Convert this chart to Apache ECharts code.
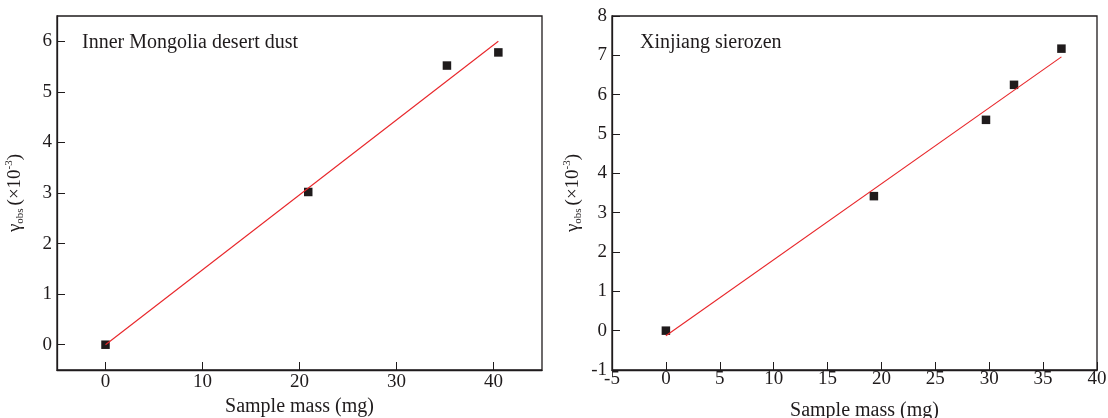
<!DOCTYPE html>
<html>
<head>
<meta charset="utf-8">
<script src="https://cdn.jsdelivr.net/npm/echarts@6/dist/echarts.min.js"></script>
<style>
  html, body { margin: 0; padding: 0; background: #fff; }
  #chart { width: 1108px; height: 418px; }
</style>
</head>
<body>
<div id="chart"></div>
<script>
// Inner Mongolia desert dust
const massMongolia = [0, 20.9, 35.2, 40.5]
const gammaMongolia = [0, 3.02, 5.52, 5.78]
const fitMassMongolia = [0, 40.5]
const fitGammaMongolia = [0, 6.0]
const xTicksMongolia = [0, 10, 20, 30, 40]
const yTicksMongolia = [0, 1, 2, 3, 4, 5, 6]

// Xinjiang sierozen
const massXinjiang = [0, 19.3, 29.7, 32.3, 36.7]
const gammaXinjiang = [0, 3.42, 5.36, 6.25, 7.17]
const fitMassXinjiang = [0, 36.7]
const fitGammaXinjiang = [-0.13, 6.96]

const panelNames = ['Inner Mongolia desert dust', 'Xinjiang sierozen']

const FONT = "'Liberation Serif', 'Times New Roman', serif"
const INK = '#1f1b1c'
const RED = '#e8262a'

const zip = (xs, ys) => xs.map((x, i) => [x, ys[i]])

const chart = echarts.init(document.getElementById('chart'))

const axisCommon = {
  axisLine: { onZero: false, lineStyle: { color: INK, width: 1.3 } },
  axisTick: { inside: true, length: 8, lineStyle: { color: INK, width: 1 } },
  splitLine: { show: false },
  axisLabel: { color: INK, fontFamily: FONT, fontSize: 19 }
}

const yName = '{g|γ}{sub|obs} {n|(×10}{sup|-3}{n|)}'
const yNameStyle = {
  fontFamily: FONT,
  color: INK,
  rich: {
    g: { fontFamily: FONT, fontSize: 19, color: INK },
    n: { fontFamily: FONT, fontSize: 19, color: INK },
    sub: { fontFamily: FONT, fontSize: 11, color: INK, padding: [10, 0, 0, 0] },
    sup: { fontFamily: FONT, fontSize: 11, color: INK, padding: [0, 0, 11, 0] }
  }
}
const titleStyle = { fontFamily: FONT, fontSize: 20, fontWeight: 'normal', color: INK }

const option = {
  backgroundColor: '#fff',
  animation: false,
  title: [
    { text: panelNames[0], left: 82, top: 33, padding: 0, textStyle: titleStyle },
    { text: panelNames[1], left: 640, top: 33, padding: 0, textStyle: titleStyle }
  ],
  grid: [
    { left: 57, top: 16, width: 485, height: 354, containLabel: false, outerBoundsMode: 'none', show: true, borderColor: INK, borderWidth: 1.3 },
    { left: 612, top: 16, width: 485, height: 354, containLabel: false, outerBoundsMode: 'none', show: true, borderColor: INK, borderWidth: 1.3 }
  ],
  xAxis: [
    {
      ...axisCommon,
      gridIndex: 0,
      type: 'value',
      min: -5,
      max: 45,
      axisTick: { ...axisCommon.axisTick, customValues: xTicksMongolia },
      axisLabel: { ...axisCommon.axisLabel, margin: 3, customValues: xTicksMongolia },
      name: 'Sample mass (mg)',
      nameLocation: 'middle',
      nameGap: 26,
      nameTextStyle: { fontFamily: FONT, fontSize: 20, color: INK }
    },
    {
      ...axisCommon,
      gridIndex: 1,
      type: 'value',
      min: -5,
      max: 40,
      interval: 5,
      axisLabel: { ...axisCommon.axisLabel, margin: 0 },
      name: 'Sample mass (mg)',
      nameLocation: 'middle',
      nameGap: 31,
      nameTextStyle: { fontFamily: FONT, fontSize: 20, color: INK, padding: [0, 0, 0, 20] }
    }
  ],
  yAxis: [
    {
      ...axisCommon,
      gridIndex: 0,
      type: 'value',
      min: -0.5,
      max: 6.5,
      axisTick: { ...axisCommon.axisTick, customValues: yTicksMongolia },
      axisLabel: { ...axisCommon.axisLabel, margin: 5, customValues: yTicksMongolia },
      name: yName,
      nameLocation: 'middle',
      nameGap: 31,
      nameTextStyle: yNameStyle
    },
    {
      ...axisCommon,
      gridIndex: 1,
      type: 'value',
      min: -1,
      max: 8,
      interval: 1,
      axisLabel: { ...axisCommon.axisLabel, margin: 5 },
      name: yName,
      nameLocation: 'middle',
      nameGap: 28,
      nameTextStyle: yNameStyle
    }
  ],
  series: [
    {
      type: 'scatter',
      xAxisIndex: 0,
      yAxisIndex: 0,
      symbol: 'rect',
      symbolSize: 8.5,
      itemStyle: { color: INK, opacity: 1 },
      data: zip(massMongolia, gammaMongolia),
      z: 2
    },
    {
      type: 'line',
      xAxisIndex: 0,
      yAxisIndex: 0,
      symbol: 'none',
      lineStyle: { color: RED, width: 1.1 },
      data: zip(fitMassMongolia, fitGammaMongolia),
      z: 3
    },
    {
      type: 'scatter',
      xAxisIndex: 1,
      yAxisIndex: 1,
      symbol: 'rect',
      symbolSize: 8.5,
      itemStyle: { color: INK, opacity: 1 },
      data: zip(massXinjiang, gammaXinjiang),
      z: 2
    },
    {
      type: 'line',
      xAxisIndex: 1,
      yAxisIndex: 1,
      symbol: 'none',
      lineStyle: { color: RED, width: 1.1 },
      data: zip(fitMassXinjiang, fitGammaXinjiang),
      z: 3
    }
  ]
}

chart.setOption(option)
</script>
</body>
</html>
